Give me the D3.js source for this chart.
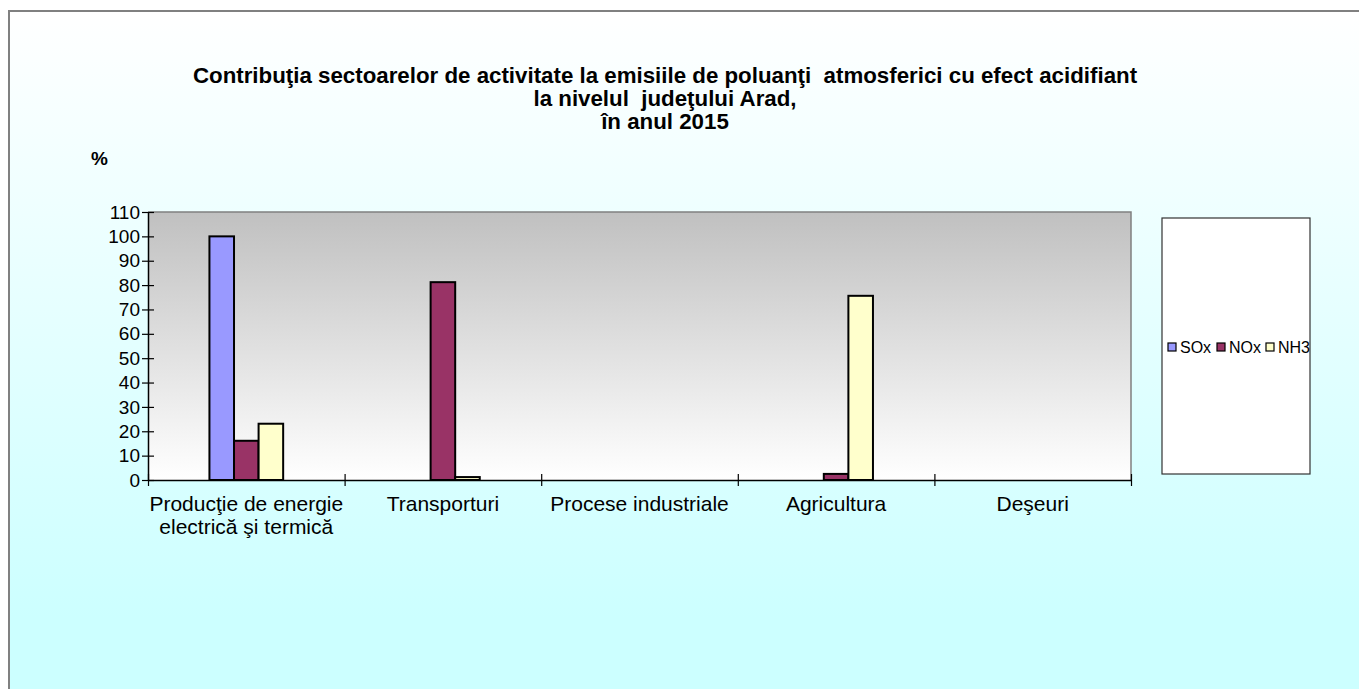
<!DOCTYPE html>
<html>
<head>
<meta charset="utf-8">
<script src="https://cdn.jsdelivr.net/npm/d3@7"></script>
<style>
html,body{margin:0;padding:0;background:#fff;}
svg{display:block;font-family:Arial,"Liberation Sans",sans-serif;}
</style>
</head>
<body>
<svg id="chart" width="1359" height="689"></svg>
<script>
const categories = [["Producţie de energie","electrică şi termică"],["Transporturi"],["Procese industriale"],["Agricultura"],["Deşeuri"]];
const seriesNames = ["SOx","NOx","NH3"];
const seriesColors = ["#9999ff","#993366","#ffffcc"];
const valuesSOx = [100, 0, 0, 0, 0];
const valuesNOx = [16.1, 81.2, 0, 2.5, 0];
const valuesNH3 = [23.1, 1.2, 0, 75.6, 0];
const yTicks = [0,10,20,30,40,50,60,70,80,90,100,110];
const titleLines = ["Contribuţia sectoarelor de activitate la emisiile de poluanţi  atmosferici cu efect acidifiant","la nivelul  judeţului Arad,","în anul 2015"];

const seriesValues = [valuesSOx, valuesNOx, valuesNH3];
const svg = d3.select("#chart");
const defs = svg.append("defs");

const bg = defs.append("linearGradient").attr("id","bgGrad").attr("x1",0).attr("y1",0).attr("x2",0).attr("y2",1);
bg.append("stop").attr("offset","0%").attr("stop-color","#ffffff");
bg.append("stop").attr("offset","88%").attr("stop-color","#ccffff");
bg.append("stop").attr("offset","100%").attr("stop-color","#ccffff");

const pg = defs.append("linearGradient").attr("id","plotGrad").attr("x1",0).attr("y1",0).attr("x2",0).attr("y2",1);
pg.append("stop").attr("offset","0%").attr("stop-color","#c0c0c0");
pg.append("stop").attr("offset","100%").attr("stop-color","#ffffff");

// Chart background
svg.append("rect").attr("x",9).attr("y",11).attr("width",1360).attr("height",690)
  .attr("fill","url(#bgGrad)").attr("stroke","#808080").attr("stroke-width",2);

const plot = {left:148, top:212, right:1131, bottom:480};

const x0 = d3.scaleBand().domain(d3.range(categories.length)).range([plot.left, plot.right]).paddingInner(0).paddingOuter(0);
const bw = x0.bandwidth();
const barW = bw / (seriesNames.length + 5);
const x1 = d3.scaleBand().domain(d3.range(seriesNames.length))
  .range([(bw - barW*seriesNames.length)/2, (bw + barW*seriesNames.length)/2]).padding(0);
const y = d3.scaleLinear().domain([0,110]).range([plot.bottom, plot.top]);

// Plot area
svg.append("rect").attr("x",plot.left).attr("y",plot.top).attr("width",plot.right-plot.left).attr("height",plot.bottom-plot.top)
  .attr("fill","url(#plotGrad)");
svg.append("path").attr("d",`M${plot.left},${plot.top}H${plot.right}V${plot.bottom}`).attr("fill","none").attr("stroke","#808080").attr("stroke-width",1.5);

// Bars
const groups = svg.append("g").selectAll("g").data(categories).join("g")
  .attr("transform",(d,i)=>`translate(${x0(i)},0)`);
groups.selectAll("rect").data((d,i)=>seriesValues.map((s,j)=>({j, v:s[i]})).filter(e=>e.v>0)).join("rect")
  .attr("x",e=>x1(e.j)).attr("width",x1.bandwidth())
  .attr("y",e=>y(e.v)).attr("height",e=>y(0)-y(e.v))
  .attr("fill",e=>seriesColors[e.j]).attr("stroke","#000").attr("stroke-width",2);

// Y axis
const yAxis = svg.append("g").attr("transform",`translate(${plot.left},0)`)
  .call(d3.axisLeft(y).tickValues(yTicks).tickSize(0).tickPadding(8));
yAxis.select(".domain").attr("stroke","#000").attr("stroke-width",1.5);
yAxis.selectAll(".tick line").attr("x1",-6).attr("x2",6).attr("stroke","#000").attr("stroke-width",1.2);
yAxis.selectAll(".tick text").attr("font-size",19).attr("fill","#000").attr("font-family","Arial,'Liberation Sans',sans-serif");

// X axis
const xb = d3.scaleLinear().domain([0,categories.length]).range([plot.left, plot.right]);
const xAxis = svg.append("g").attr("transform",`translate(0,${plot.bottom})`)
  .call(d3.axisBottom(xb).tickValues(d3.range(categories.length+1)).tickSize(0).tickFormat(""));
xAxis.select(".domain").attr("stroke","#000").attr("stroke-width",1.5);
xAxis.selectAll(".tick line").attr("y1",-6).attr("y2",6).attr("stroke","#000").attr("stroke-width",1.2);

// Category labels
const lab = svg.append("g").selectAll("text").data(categories).join("text")
  .attr("x",(d,i)=>x0(i)+bw/2).attr("y",511).attr("text-anchor","middle").attr("font-size",21).attr("fill","#000");
lab.selectAll("tspan").data(d=>d).join("tspan").attr("x",function(){return this.parentNode.getAttribute("x");})
  .attr("dy",(d,k)=>k===0?0:23).text(d=>d);

// Title
svg.append("g").selectAll("text").data(titleLines).join("text")
  .attr("x",665).attr("y",(d,i)=>83+i*23).attr("text-anchor","middle")
  .attr("font-size",22.3).attr("font-weight","bold").attr("fill","#000").style("white-space","pre").text(d=>d);

// % label
svg.append("text").attr("x",91).attr("y",165).attr("font-size",19).attr("font-weight","bold").text("%");

// Legend
svg.append("rect").attr("x",1162).attr("y",218).attr("width",148).attr("height",256).attr("fill","#fff").attr("stroke","#333").attr("stroke-width",1.2);
const legendX = [1168,1217,1266];
const leg = svg.append("g").selectAll("g").data(seriesNames).join("g").attr("transform",(d,i)=>`translate(${legendX[i]},347)`);
leg.append("rect").attr("x",0).attr("y",-4).attr("width",8).attr("height",8).attr("fill",(d,i)=>seriesColors[i]).attr("stroke","#000").attr("stroke-width",1.2);
leg.append("text").attr("x",12).attr("y",5.5).attr("font-size",16).attr("fill","#000").text(d=>d);
</script>
</body>
</html>
